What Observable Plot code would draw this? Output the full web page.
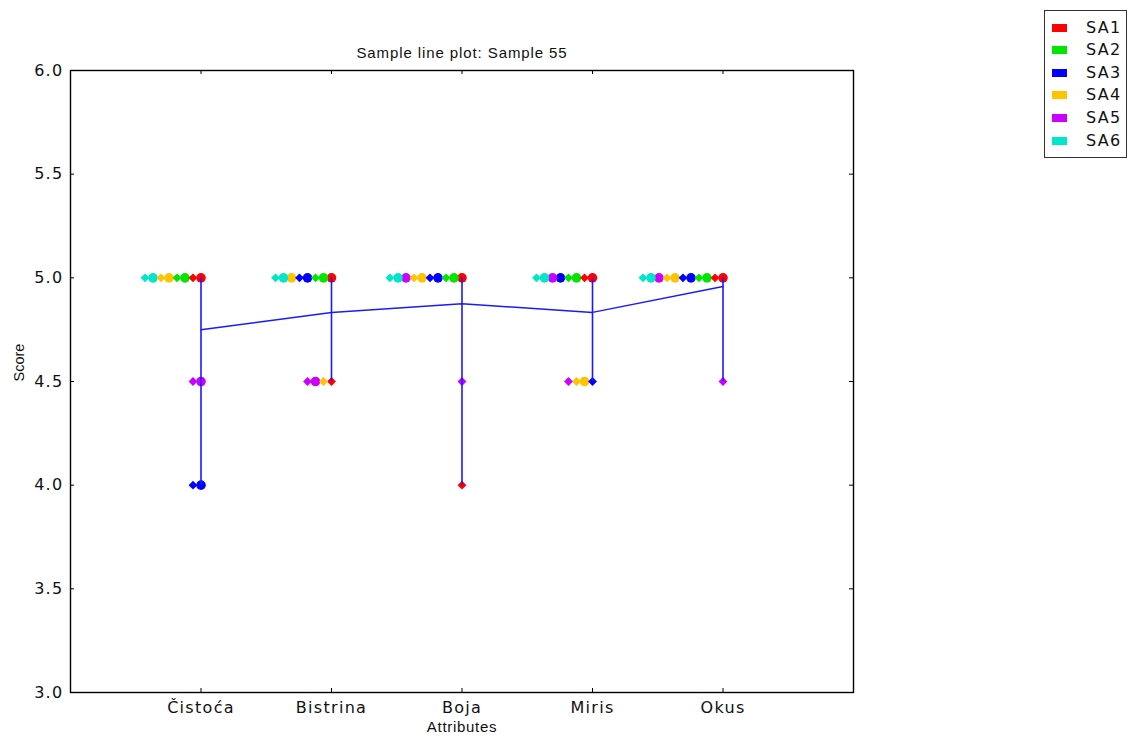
<!DOCTYPE html>
<html>
<head>
<meta charset="utf-8">
<script src="https://cdn.jsdelivr.net/npm/d3@7"></script>
<script src="https://cdn.jsdelivr.net/npm/@observablehq/plot@0.6"></script>
<style>
  html, body { margin: 0; padding: 0; background: #fff; }
  #wrap { position: relative; width: 1130px; height: 740px; }
  svg g[aria-label="x-axis tick label"] text,
  svg g[aria-label="y-axis tick label"] text { letter-spacing: 1.3px; }
  #legend { position: absolute; left: 1044px; top: 10px; width: 83px; height: 148px;
    border: 1px solid #333; box-sizing: border-box; background: #fff;
    font-family: "DejaVu Sans", sans-serif; font-size: 16px; letter-spacing: 1.3px; color: #111; }
  #legend .row { position: absolute; left: 0; height: 20px; width: 100%; }
  #legend .sw { position: absolute; left: 7px; top: 6px; width: 15px; height: 8px; }
  #legend .lb { position: absolute; left: 41px; top: 0px; line-height: 20px; }
</style>
</head>
<body>
<div id="wrap"></div>
<script>
// ---- data ----
const attributes = ["Čistoća", "Bistrina", "Boja", "Miris", "Okus"];
const assessors = ["SA1", "SA2", "SA3", "SA4", "SA5", "SA6"];
const assessorColors = ["#ff0000", "#00e600", "#0000ff", "#ffc400", "#cc00ff", "#00e6c8"];
// replicate 1 (diamonds), one row per assessor, one value per attribute
const replicate1 = [
  [5, 4.5, 4, 5, 5],
  [5, 5, 5, 5, 5],
  [4, 5, 5, 4.5, 5],
  [5, 4.5, 5, 4.5, 5],
  [4.5, 4.5, 4.5, 4.5, 4.5],
  [5, 5, 5, 5, 5]
];
// replicate 2 (circles)
const replicate2 = [
  [5, 5, 5, 5, 5],
  [5, 5, 5, 5, 5],
  [4, 5, 5, 5, 5],
  [5, 5, 5, 4.5, 5],
  [4.5, 4.5, 5, 5, 5],
  [5, 5, 5, 5, 5]
];
const yTicks = [3.0, 3.5, 4.0, 4.5, 5.0, 5.5, 6.0];
const titleText = "Sample line plot: Sample 55";
const xLabel = "Attributes";
const yLabel = "Score";

// ---- build table ----
const step = 8 / 130.5; // horizontal spacing of tied points (x units)
const points = [];
attributes.forEach((attr, i) => {
  const count = new Map();
  assessors.forEach((sa, s) => {
    [[2, replicate2], [1, replicate1]].forEach(([rep, arr]) => {
      const v = arr[s][i];
      const k = count.get(v) || 0;
      count.set(v, k + 1);
      points.push({
        x: i - k * step, y: v, assessor: sa, rep,
        symbol: rep === 1 ? "diamond2" : "circle",
        r: rep === 1 ? 4 : 4.8
      });
    });
  });
});
const ranges = attributes.map((attr, i) => {
  const vals = assessors.flatMap((sa, s) => [replicate1[s][i], replicate2[s][i]]);
  return { x: i, y1: d3.min(vals), y2: d3.max(vals), mean: d3.mean(vals) };
});

const tx = 4 / 130.5, ty = 4 / 207;
const chart = Plot.plot({
  width: 1130,
  height: 740,
  marginLeft: 70,
  marginRight: 277,
  marginTop: 70,
  marginBottom: 48,
  style: { fontFamily: "DejaVu Sans, sans-serif", fontSize: "16px", color: "#111", background: "#fff" },
  x: { domain: [-1, 5] },
  y: { domain: [3, 6] },
  color: { domain: assessors, range: assessorColors },
  symbol: { type: "identity" },
  r: { type: "identity" },
  marks: [
    Plot.axisX({ ticks: attributes.map((a, i) => i), tickFormat: i => attributes[i], tickSize: 0, tickPadding: 9, label: null }),
    Plot.axisY({ ticks: yTicks, tickFormat: d3.format(".1f"), tickSize: 0, tickPadding: 7, label: null }),
    Plot.ruleY(yTicks, { y: d => d, x1: -1, x2: -1 + tx, stroke: "#000" }),
    Plot.ruleY(yTicks, { y: d => d, x1: 5, x2: 5 - tx, stroke: "#000" }),
    Plot.ruleX(attributes.map((a, i) => i), { x: d => d, y1: 3, y2: 3 + ty, stroke: "#000" }),
    Plot.ruleX(attributes.map((a, i) => i), { x: d => d, y1: 6, y2: 6 - ty, stroke: "#000" }),
    Plot.dot(points, { x: "x", y: "y", fill: "assessor", symbol: "symbol", r: "r", stroke: null }),
    Plot.ruleX(ranges, { x: "x", y1: "y1", y2: "y2", stroke: "#1a1aff", strokeWidth: 1.6 }),
    Plot.line(ranges, { x: "x", y: "mean", stroke: "#1a1aff", strokeWidth: 1.5 }),
    Plot.frame({ stroke: "#000", strokeWidth: 1.4 }),
    Plot.text([titleText], { text: d => d, frameAnchor: "top", dy: -23, fontSize: 15, fontFamily: "Liberation Sans, Arial, sans-serif", fill: "#111" }),
    Plot.text([xLabel], { text: d => d, frameAnchor: "bottom", dy: 39, fontSize: 15, fontFamily: "Liberation Sans, Arial, sans-serif", fill: "#111" }),
    Plot.text([yLabel], { text: d => d, frameAnchor: "left", dx: -51, rotate: -90, fontSize: 14.5, fontFamily: "Liberation Sans, Arial, sans-serif", fill: "#111" })
  ]
});
// widen the horizontal label text a little, like the reference
chart.querySelectorAll("text").forEach(t => {
  if (t.textContent === titleText) t.style.letterSpacing = "0.9px";
  if (t.textContent === xLabel) t.style.letterSpacing = "0.7px";
});
const wrap = document.getElementById("wrap");
wrap.appendChild(chart);

// legend
const legend = document.createElement("div");
legend.id = "legend";
assessors.forEach((sa, s) => {
  const row = document.createElement("div");
  row.className = "row";
  row.style.top = (6.5 + s * 22.6) + "px";
  const sw = document.createElement("div");
  sw.className = "sw";
  sw.style.background = assessorColors[s];
  const lb = document.createElement("div");
  lb.className = "lb";
  lb.textContent = sa;
  row.appendChild(sw); row.appendChild(lb);
  legend.appendChild(row);
});
wrap.appendChild(legend);
</script>
</body>
</html>
